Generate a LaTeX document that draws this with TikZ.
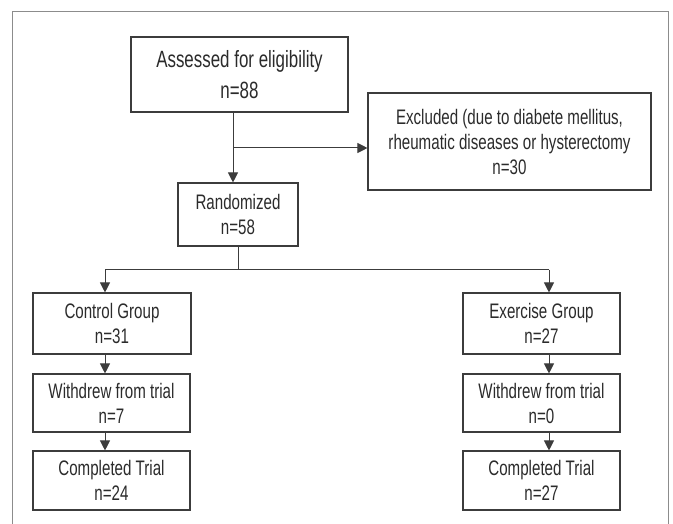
\documentclass[tikz,border=0pt]{standalone}
\usepackage{fontspec}
\setmainfont{Liberation Sans}[FakeStretch=0.72]
\usetikzlibrary{arrows.meta}
\definecolor{boxline}{HTML}{3C3C3C}
\definecolor{txt}{HTML}{2B2B2B}
\definecolor{framec}{HTML}{8C8C8C}
\begin{document}
\begin{tikzpicture}[x=1pt,y=-1pt,
  box/.style={draw=boxline, line width=1.1pt, inner sep=0pt, align=center,
    text=txt, font=\fontsize{21}{25}\selectfont},
  bigtext/.style={font=\fontsize{23.5}{31}\selectfont},
  link/.style={draw=boxline, line width=1pt},
  arr/.style={link, -{Triangle[length=10pt,width=10pt]}}]
\fill[white] (0,0) rectangle (673,524);
\useasboundingbox (0,0) rectangle (673,524);
\draw[framec, line width=1.5pt] (12.5,524) -- (12.5,11.5) -- (668.5,11.5) -- (668.5,524);

\node[box, bigtext, minimum width=217, minimum height=75] (assess) at (239.5,74.5)
  {Assessed for eligibility\\n=88};
\node[box, minimum width=283, minimum height=97] (excl) at (509.5,141.5)
  {Excluded (due to diabete mellitus,\\rheumatic diseases or hysterectomy\\n=30};
\node[box, minimum width=120, minimum height=63] (rand) at (238,214.5)
  {Randomized\\n=58};
\node[box, minimum width=158, minimum height=61] (ctrl) at (112,323.5)
  {Control Group\\n=31};
\node[box, minimum width=157, minimum height=61] (exer) at (541.5,323.5)
  {Exercise Group\\n=27};
\node[box, minimum width=157, minimum height=58] (wdl) at (111.5,403)
  {Withdrew from trial\\n=7};
\node[box, minimum width=157, minimum height=58] (wdr) at (541.5,403)
  {Withdrew from trial\\n=0};
\node[box, minimum width=157, minimum height=59] (cpl) at (111.5,480.5)
  {Completed Trial\\n=24};
\node[box, minimum width=157, minimum height=59] (cpr) at (541.5,480.5)
  {Completed Trial\\n=27};

\coordinate (stem) at (233,148);
\coordinate (split) at (238,270);
\coordinate (lcol) at (105,270);
\coordinate (rcol) at (549,270);

\draw[arr] (assess.south -| stem) -- (rand.north -| stem);
\draw[arr] (stem) -- (stem -| excl.west);
\draw[link] (rand.south -| split) -- (split);
\draw[link] (lcol) -- (rcol);
\draw[arr] (lcol) -- (ctrl.north -| lcol);
\draw[arr] (rcol) -- (exer.north -| rcol);
\draw[arr] (ctrl.south -| lcol) -- (wdl.north -| lcol);
\draw[arr] (exer.south -| rcol) -- (wdr.north -| rcol);
\draw[arr] (wdl.south -| lcol) -- (cpl.north -| lcol);
\draw[arr] (wdr.south -| rcol) -- (cpr.north -| rcol);
\end{tikzpicture}
\end{document}
